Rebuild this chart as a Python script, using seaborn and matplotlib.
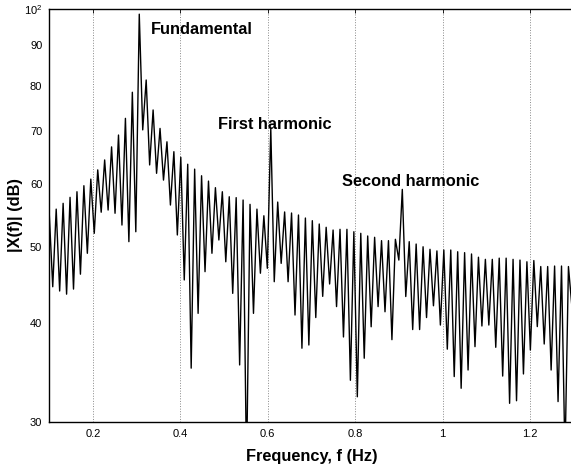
import numpy as np
import matplotlib
matplotlib.use("Agg")
import matplotlib.pyplot as plt
import seaborn as sns

# ---------------- data ----------------
# spectrum sampled on a regular grid: peak / null alternate every half_bin
f_start = 0.1
half_bin = 0.00792

# lobe maxima (dB), left to right
peak_db = [54.95, 55.8, 56.75, 57.75, 58.7, 59.74, 60.9, 62.56, 64.4, 66.9,
           69.25, 72.7, 78.45, 98.5, 81.3, 74.5, 70.6, 67.9, 65.97, 64.9,
           63.6, 62.7, 61.5, 60.55, 59.4, 58.7, 57.85, 57.7, 57.3, 56.58,
           55.8, 54.73, 70.55, 56.96, 55.34, 55.17, 54.85, 54.37, 53.95, 53.43,
           52.92, 52.5, 52.61, 52.61, 52.24, 52.0, 51.6, 51.4, 50.9, 50.9,
           51.1, 59.1, 50.75, 50.4, 50.0, 49.63, 49.4, 49.53, 49.53, 49.28,
           49.15, 48.96, 48.5, 48.2, 48.2, 48.37, 48.37, 48.2, 48.1, 47.86,
           48.03, 47.2, 47.2, 47.27, 47.27, 47.2]

# minima between lobes (dB)
null_db = [44.5, 43.95, 43.55, 44.2, 46.16, 49.06, 52.0, 55.3, 55.65, 55.13,
           53.27, 50.75, 52.24, 70.3, 63.47, 61.94, 60.73, 56.47, 51.75, 45.39,
           35.1, 41.18, 46.5, 49.06, 51.0, 47.86, 43.65, 35.43, 26.0, 41.18,
           46.29, 46.96, 45.16, 47.64, 45.16, 40.98, 37.2, 37.55, 40.68, 43.27,
           44.86, 42.0, 38.44, 33.88, 32.29, 36.13, 39.6, 42.0, 41.37, 38.14,
           48.1, 43.25, 39.28, 39.28, 40.68, 42.1, 39.8, 37.1, 34.25, 33.1,
           34.91, 37.37, 39.69, 39.8, 37.3, 34.3, 31.68, 31.92, 34.51, 37.0,
           39.62, 37.66, 34.91, 31.84, 27.0, 42.0]

y_ticks = [30, 40, 50, 60, 70, 80, 90, 100]
y_tick_labels = ["30", "40", "50", "60", "70", "80", "90", "$10^2$"]
x_ticks = [0.2, 0.4, 0.6, 0.8, 1.0, 1.2]
x_tick_labels = ["0.2", "0.4", "0.6", "0.8", "1", "1.2"]

labels = ["Fundamental", "First harmonic", "Second harmonic"]
label_f = [0.333, 0.4865, 0.77]
label_db = [94.1, 71.5, 60.55]

# interleave peaks and nulls into one trace
mag_db = np.empty(len(peak_db) + len(null_db))
mag_db[0::2] = peak_db
mag_db[1::2] = null_db
freq = f_start + half_bin * np.arange(len(mag_db))

# ---------------- plot ----------------
sns.set_style("white")
plt.rcParams["font.family"] = ["Liberation Sans", "DejaVu Sans"]
plt.rcParams["mathtext.default"] = "regular"
plt.rcParams["text.color"] = "black"
plt.rcParams["axes.labelcolor"] = "black"
plt.rcParams["xtick.color"] = "black"
plt.rcParams["ytick.color"] = "black"

fig = plt.figure(figsize=(5.71, 4.73), dpi=100)
ax = fig.add_axes([0.0863, 0.1078, 0.9184, 0.8732])

sns.lineplot(x=freq, y=mag_db, ax=ax, color="black", linewidth=1.0,
             estimator=None, sort=False)

ax.set_yscale("log")
ax.set_xlim(0.1, 1.3)
ax.set_ylim(30, 100)

ax.set_yticks(y_ticks)
ax.set_yticklabels(y_tick_labels)
ax.yaxis.set_minor_locator(matplotlib.ticker.NullLocator())
ax.set_xticks(x_ticks)
ax.set_xticklabels(x_tick_labels)

ax.tick_params(axis="both", which="major", direction="in", length=3,
               labelsize=8, width=0.6, top=True, right=False, pad=5,
               colors="black")

ax.grid(axis="x", linestyle=":", color="#888888", linewidth=0.7)
ax.grid(axis="y", visible=False)

for sp in ax.spines.values():
    sp.set_color("black")
    sp.set_linewidth(1.0)

ax.set_xlabel("Frequency, f (Hz)", fontsize=11.8, fontweight="bold", labelpad=7)
ax.set_ylabel("|X(f)| (dB)", fontsize=11.8, fontweight="bold")
ax.yaxis.set_label_coords(-0.05, 0.5)

for txt, fx, fy in zip(labels, label_f, label_db):
    ax.text(fx, fy, txt, fontsize=11.8, fontweight="bold", ha="left", va="center")

fig.savefig("out.png", dpi=100)
